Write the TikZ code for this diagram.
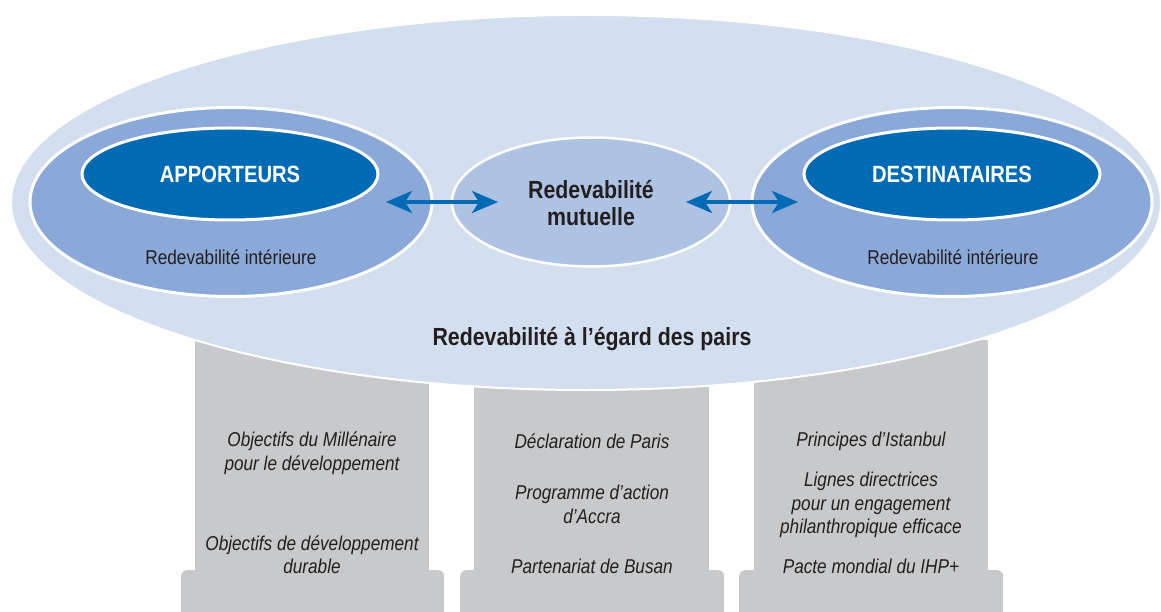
\documentclass[tikz,border=0pt]{standalone}
\usepackage{fontspec}
\setmainfont{Liberation Sans}[FakeStretch=0.86]
\usetikzlibrary{shapes.geometric,arrows.meta}
\definecolor{bigE}{RGB}{211,222,239}
\definecolor{medE}{RGB}{139,169,216}
\definecolor{midE}{RGB}{174,194,228}
\definecolor{darkE}{RGB}{0,106,180}
\definecolor{pillarC}{RGB}{200,201,203}
\definecolor{txt}{RGB}{35,31,32}
\begin{document}
\begin{tikzpicture}[x=1pt,y=-1pt,
  ell/.style={ellipse, inner sep=0pt, draw=white},
  shaft/.style={rectangle, fill=pillarC, draw=none, inner sep=0pt, anchor=north west},
  pbase/.style={rectangle, fill=pillarC, draw=none, inner sep=0pt, anchor=north west, rounded corners=6pt},
  ptext/.style={font=\fontsize{20}{23.5}\selectfont\itshape, text=txt, align=center, inner sep=0pt},
  bigtext/.style={font=\fontsize{23.5}{27}\selectfont\bfseries, text=white, inner sep=0pt},
  inttext/.style={font=\fontsize{20}{23}\selectfont, text=txt, inner sep=0pt, anchor=base},
  boldtext/.style={font=\fontsize{24.8}{27}\selectfont\bfseries, text=txt, align=center, inner sep=0pt},
  arr/.style={darkE, line width=3.5pt, {Stealth[length=26pt,width=22pt,inset=7pt]}-{Stealth[length=26pt,width=22pt,inset=7pt]}}
]
\useasboundingbox (0,0) rectangle (1161,612);

% pillars
\node[pbase, minimum width=263pt, minimum height=60pt] (b1) at (181,570) {};
\node[pbase, minimum width=264pt, minimum height=60pt] (b2) at (460,570) {};
\node[pbase, minimum width=264pt, minimum height=60pt] (b3) at (739,570) {};
\node[shaft, minimum width=234pt, minimum height=250pt] (p1) at (195,340) {};
\node[shaft, minimum width=235pt, minimum height=250pt] (p2) at (474,340) {};
\node[shaft, minimum width=234pt, minimum height=250pt] (p3) at (754,340) {};

% big ellipse
\node[ell, fill=bigE, line width=2pt, minimum width=1150pt, minimum height=375pt] (peer) at (586,202.5) {};
\node[boldtext, anchor=base] (peerT) at (592,345) {Redevabilité à l’égard des pairs};

% left
\node[ell, fill=medE, line width=3pt, minimum width=402pt, minimum height=189pt] (donO) at (231,202) {};
\node[ell, fill=darkE, line width=3pt, minimum width=296pt, minimum height=92pt] (don) at (230,174) {};
\node[bigtext, anchor=base] (donT) at (230,182.5) {APPORTEURS};
\node[inttext] (donI) at (231,265) {Redevabilité intérieure};

% right
\node[ell, fill=medE, line width=3pt, minimum width=400pt, minimum height=189pt] (recO) at (952,202) {};
\node[ell, fill=darkE, line width=3pt, minimum width=296pt, minimum height=92pt] (rec) at (952,174) {};
\node[bigtext, anchor=base] (recT) at (952,182.5) {DESTINATAIRES};
\node[inttext] (recI) at (953,265) {Redevabilité intérieure};

% middle
\node[ell, fill=midE, line width=2.5pt, minimum width=278pt, minimum height=129pt] (mut) at (591,202) {};
\node[boldtext] (mutT) at (591,203) {Redevabilité\\mutuelle};

% arrows
\coordinate (la) at (386,202);
\coordinate (lb) at (498,202);
\coordinate (ra) at (686,202);
\coordinate (rb) at (798,202);
\draw[arr] (la) -- (lb);
\draw[arr] (ra) -- (rb);

% pillar texts
\node[ptext] (t11) at (312,453) {Objectifs du Millénaire\\pour le développement};
\node[ptext] (t12) at (312,554.5) {Objectifs de développement\\durable};
\node[ptext] (t21) at (592,441) {Déclaration de Paris};
\node[ptext] (t22) at (592,504.5) {Programme d’action\\d’Accra};
\node[ptext] (t23) at (592,566) {Partenariat de Busan};
\node[ptext] (t31) at (871,441) {Principes d’Istanbul};
\node[ptext] (t32) at (871,505) {Lignes directrices\\pour un engagement\\philanthropique efficace};
\node[ptext] (t33) at (871,566) {Pacte mondial du IHP+};
\end{tikzpicture}
\end{document}
